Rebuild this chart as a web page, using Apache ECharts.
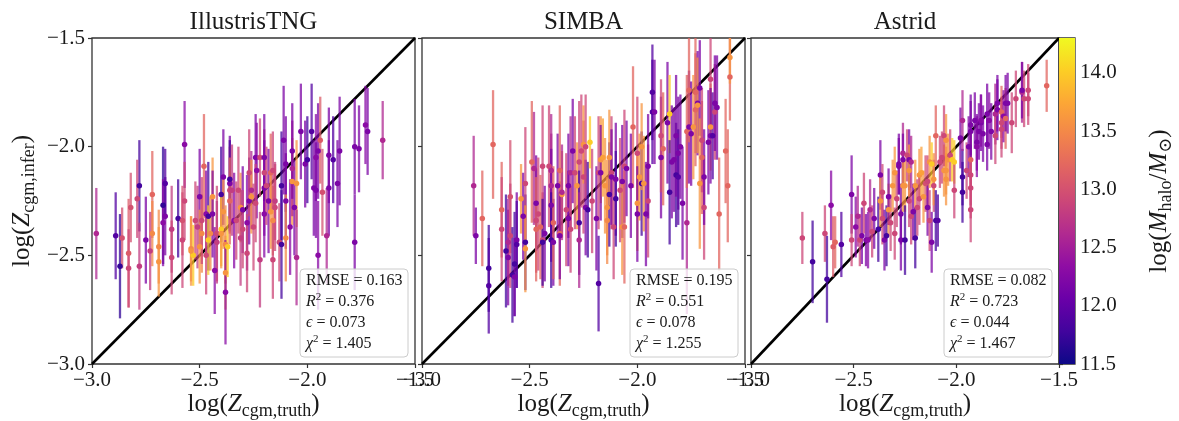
<!DOCTYPE html>
<html>
<head>
<meta charset="utf-8">
<script src="https://cdn.jsdelivr.net/npm/echarts@6/dist/echarts.min.js"></script>
<style>
  html, body { margin: 0; padding: 0; background: #fff; }
  #chart { width: 1179px; height: 421px; }
</style>
</head>
<body>
<div id="chart"></div>
<script>
// ---- data -------------------------------------------------------------
const panelTitles = ['IllustrisTNG', 'SIMBA', 'Astrid'];
const axisRange = [-3.0, -1.5];
const axisStep = 0.5;
const massRange = [11.5, 14.3];
const massTicks = [11.5, 12.0, 12.5, 13.0, 13.5, 14.0];

const rmseValues = ['0.163', '0.195', '0.082'];
const r2Values   = ['0.376', '0.551', '0.723'];
const epsValues  = ['0.073', '0.078', '0.044'];
const chi2Values = ['1.405', '1.255', '1.467'];

// each point: [log Z_truth, log Z_infer, 1-sigma error, log M_halo]
const tngPoints = [
  [-2.98,-2.40,0.21,12.6],[-2.89,-2.41,0.20,11.9],[-2.87,-2.55,0.24,11.7],[-2.86,-2.42,0.14,13.0],
  [-2.83,-2.49,0.25,13.1],[-2.83,-2.56,0.18,12.9],[-2.82,-2.28,0.16,13.0],[-2.78,-2.18,0.21,11.8],
  [-2.78,-2.55,0.20,12.8],[-2.79,-2.24,0.18,12.9],[-2.75,-2.43,0.20,12.2],[-2.72,-2.22,0.20,13.2],
  [-2.72,-2.40,0.15,13.5],[-2.73,-2.48,0.18,12.8],[-2.69,-2.46,0.17,13.5],[-2.69,-2.53,0.16,13.6],
  [-2.67,-2.27,0.27,11.7],[-2.67,-2.35,0.20,12.3],[-2.66,-2.32,0.18,12.2],[-2.66,-2.17,0.16,11.9],
  [-2.63,-2.38,0.20,12.8],[-2.63,-2.51,0.17,12.9],[-2.60,-2.33,0.18,11.8],[-2.58,-2.43,0.22,12.9],
  [-2.57,-1.99,0.20,12.3],[-2.57,-2.25,0.18,12.9],[-2.58,-2.34,0.16,13.0],[-2.54,-2.47,0.15,13.5],
  [-2.53,-2.50,0.14,14.0],[-2.54,-2.48,0.16,13.6],[-2.52,-2.34,0.18,12.9],[-2.51,-2.37,0.19,12.8],
  [-2.50,-2.23,0.22,12.2],[-2.50,-2.46,0.17,13.6],[-2.49,-2.40,0.18,13.5],[-2.49,-2.34,0.20,12.9],
  [-2.48,-2.09,0.24,13.2],[-2.47,-2.31,0.20,12.3],[-2.47,-2.50,0.18,12.9],[-2.46,-2.32,0.25,11.8],
  [-2.46,-2.43,0.16,14.0],[-2.45,-2.40,0.17,13.5],[-2.44,-2.23,0.18,13.6],[-2.44,-2.31,0.20,12.2],
  [-2.43,-2.57,0.20,12.3],[-2.42,-2.40,0.22,12.9],[-2.42,-2.44,0.19,12.8],[-2.40,-2.22,0.22,11.8],
  [-2.40,-2.38,0.17,14.0],[-2.40,-2.40,0.16,13.6],[-2.39,-2.14,0.22,12.2],[-2.39,-2.30,0.17,13.6],
  [-2.38,-2.45,0.18,13.5],[-2.38,-2.58,0.17,13.6],[-2.38,-2.67,0.24,12.3],[-2.37,-2.46,0.14,14.0],
  [-2.36,-2.17,0.22,12.2],[-2.36,-2.20,0.20,12.9],[-2.36,-2.15,0.18,11.8],[-2.36,-2.25,0.20,13.2],
  [-2.35,-2.20,0.21,12.8],[-2.34,-2.34,0.22,12.3],[-2.33,-2.34,0.18,12.9],[-2.32,-2.20,0.20,12.9],
  [-2.31,-2.28,0.16,13.6],[-2.31,-2.42,0.22,12.8],[-2.30,-2.29,0.20,12.2],[-2.30,-2.38,0.18,12.9],
  [-2.28,-2.35,0.22,12.3],[-2.28,-2.49,0.18,12.9],[-2.27,-2.25,0.20,12.2],[-2.27,-2.12,0.20,12.9],
  [-2.26,-2.20,0.18,12.6],[-2.26,-2.23,0.17,13.6],[-2.25,-2.37,0.20,12.9],[-2.24,-2.05,0.20,12.2],
  [-2.235,-2.11,0.22,12.3],[-2.24,-2.26,0.18,12.9],[-2.22,-2.05,0.18,12.9],[-2.22,-2.52,0.22,12.8],
  [-2.20,-2.12,0.20,12.9],[-2.20,-2.19,0.22,12.2],[-2.20,-2.31,0.20,12.3],[-2.20,-2.05,0.20,12.2],
  [-2.19,-2.18,0.18,12.9],[-2.18,-2.25,0.24,12.2],[-2.17,-2.12,0.18,13.2],[-2.17,-2.30,0.17,13.6],
  [-2.16,-2.34,0.16,13.5],[-2.16,-2.11,0.18,12.9],[-2.16,-2.52,0.18,12.9],[-2.15,-2.25,0.18,12.8],
  [-2.15,-2.28,0.20,12.9],[-2.13,-2.44,0.18,12.9],[-2.12,-2.18,0.25,11.8],[-2.12,-2.45,0.25,11.8],
  [-2.11,-1.97,0.25,12.2],[-2.10,-2.08,0.22,12.2],[-2.10,-2.25,0.22,12.2],[-2.10,-2.42,0.20,13.5],
  [-2.08,-2.37,0.22,12.3],[-2.07,-2.16,0.20,13.6],[-2.07,-2.10,0.22,12.6],[-2.07,-2.02,0.22,12.2],
  [-2.06,-2.28,0.22,12.2],[-2.05,-2.17,0.20,13.6],[-2.05,-2.51,0.22,12.6],[-2.03,-1.93,0.22,12.2],
  [-2.01,-2.08,0.20,12.2],[-2.00,-2.06,0.20,11.8],[-1.98,-1.93,0.22,11.9],[-1.97,-2.19,0.22,12.2],
  [-1.96,-2.05,0.20,12.3],[-1.96,-2.20,0.22,12.2],[-1.95,-2.50,0.25,12.3],[-1.95,-2.02,0.22,12.2],
  [-1.94,-1.97,0.20,13.1],[-1.93,-2.21,0.20,13.0],[-1.91,-2.41,0.22,12.6],[-1.90,-2.04,0.22,12.2],
  [-1.90,-2.19,0.22,12.2],[-1.88,-2.06,0.20,11.9],[-1.86,-2.17,0.20,12.2],[-1.85,-2.02,0.25,12.2],
  [-1.78,-2.00,0.22,12.2],[-1.78,-2.44,0.22,12.2],[-1.76,-2.01,0.20,12.2],[-1.73,-1.90,0.18,12.3],
  [-1.72,-1.93,0.20,12.2],[-1.65,-1.97,0.18,12.6]
];

const simbaPoints = [
  [-2.76,-2.18,0.23,12.6],[-2.75,-2.41,0.13,12.2],[-2.72,-2.33,0.22,13.2],[-2.69,-2.56,0.20,11.8],
  [-2.69,-2.64,0.22,11.9],[-2.67,-1.99,0.25,13.2],[-2.63,-2.29,0.22,13.2],[-2.63,-2.38,0.24,12.9],
  [-2.61,-2.48,0.26,11.8],[-2.60,-2.51,0.22,12.2],[-2.60,-2.44,0.20,12.6],[-2.59,-2.23,0.26,13.0],
  [-2.59,-2.41,0.24,12.9],[-2.58,-2.59,0.22,11.8],[-2.57,-2.54,0.24,11.8],[-2.57,-2.60,0.18,12.2],
  [-2.56,-2.43,0.22,12.2],[-2.56,-2.45,0.20,11.9],[-2.54,-2.24,0.16,13.6],[-2.53,-2.32,0.20,12.2],
  [-2.52,-2.44,0.22,11.8],[-2.52,-2.17,0.26,12.9],[-2.52,-2.47,0.20,13.6],[-2.49,-2.07,0.28,13.2],
  [-2.48,-2.10,0.26,12.6],[-2.47,-2.34,0.24,12.9],[-2.47,-2.26,0.22,12.2],[-2.46,-2.31,0.26,12.9],
  [-2.47,-2.38,0.24,13.2],[-2.45,-2.37,0.24,13.2],[-2.44,-2.09,0.28,12.9],[-2.44,-2.43,0.22,12.9],
  [-2.44,-2.44,0.20,11.8],[-2.43,-2.40,0.22,12.2],[-2.41,-2.09,0.28,12.9],[-2.40,-2.11,0.26,12.6],
  [-2.40,-2.18,0.24,12.6],[-2.40,-2.27,0.26,12.2],[-2.40,-2.43,0.22,11.8],[-2.39,-2.44,0.20,12.2],
  [-2.39,-2.35,0.26,13.2],[-2.37,-2.18,0.24,12.2],[-2.36,-2.11,0.30,13.2],[-2.36,-2.40,0.24,13.2],
  [-2.36,-2.41,0.20,12.2],[-2.35,-2.22,0.20,13.6],[-2.35,-2.21,0.22,12.6],[-2.33,-2.29,0.26,12.9],
  [-2.32,-2.18,0.24,12.2],[-2.32,-2.33,0.22,12.2],[-2.31,-2.12,0.26,12.6],[-2.31,-2.38,0.20,12.9],
  [-2.30,-2.02,0.24,12.2],[-2.29,-2.12,0.26,12.9],[-2.28,-2.18,0.20,13.6],[-2.27,-2.07,0.28,12.9],
  [-2.27,-2.35,0.24,11.8],[-2.27,-2.43,0.22,12.6],[-2.26,-2.02,0.26,12.9],[-2.25,-2.14,0.26,12.9],
  [-2.25,-1.99,0.18,13.6],[-2.24,-2.28,0.22,12.2],[-2.24,-2.00,0.24,12.9],[-2.23,-2.29,0.22,11.8],
  [-2.22,-1.98,0.12,14.0],[-2.21,-2.25,0.24,12.9],[-2.19,-2.33,0.24,12.2],[-2.18,-2.12,0.26,12.9],
  [-2.18,-2.63,0.22,11.9],[-2.17,-2.06,0.20,13.6],[-2.17,-2.12,0.22,12.2],[-2.16,-2.05,0.18,13.7],
  [-2.15,-2.18,0.22,13.6],[-2.14,-2.28,0.22,13.6],[-2.14,-2.34,0.20,13.5],[-2.13,-2.22,0.24,11.8],
  [-2.13,-2.05,0.22,13.6],[-2.12,-2.12,0.26,12.9],[-2.12,-2.14,0.22,12.2],[-2.11,-2.37,0.24,12.9],
  [-2.10,-2.15,0.26,12.2],[-2.10,-2.24,0.22,11.8],[-2.08,-2.20,0.24,12.9],[-2.07,-2.16,0.26,12.2],
  [-2.07,-2.37,0.22,13.6],[-2.06,-2.37,0.26,13.2],[-2.06,-2.09,0.26,12.9],[-2.05,-2.10,0.22,12.2],
  [-2.03,-2.18,0.24,12.2],[-2.02,-1.91,0.28,13.2],[-2.00,-2.03,0.26,12.9],[-2.00,-2.26,0.22,13.6],
  [-2.00,-2.31,0.22,12.2],[-1.99,-2.14,0.20,13.6],[-1.98,-2.17,0.24,11.8],[-1.98,-2.00,0.20,13.6],
  [-1.97,-2.17,0.22,13.6],[-1.96,-2.31,0.24,12.2],[-1.95,-2.25,0.26,12.9],[-1.95,-2.09,0.24,12.2],
  [-1.93,-1.75,0.22,11.9],[-1.93,-1.84,0.24,11.9],[-1.92,-1.84,0.24,12.2],[-1.89,-2.05,0.28,12.2],
  [-1.89,-1.95,0.26,12.9],[-1.88,-2.01,0.26,13.2],[-1.86,-1.89,0.28,12.2],[-1.85,-1.85,0.18,14.0],
  [-1.85,-2.21,0.24,11.8],[-1.84,-2.07,0.26,12.2],[-1.83,-2.06,0.24,12.2],[-1.82,-2.13,0.24,11.8],
  [-1.82,-1.95,0.28,12.2],[-1.81,-2.03,0.26,12.2],[-1.81,-2.14,0.22,11.9],[-1.80,-2.00,0.24,12.2],
  [-1.79,-2.26,0.26,12.2],[-1.77,-2.35,0.42,12.6],[-1.77,-1.93,0.26,13.2],[-1.76,-1.91,0.26,12.2],
  [-1.76,-1.74,0.24,13.2],[-1.75,-1.94,0.24,12.2],[-1.74,-1.91,0.24,13.6],[-1.73,-1.75,0.28,13.2],
  [-1.73,-1.83,0.26,13.2],[-1.72,-1.80,0.24,12.2],[-1.72,-1.81,0.22,13.6],[-1.71,-1.73,0.22,12.2],
  [-1.71,-2.17,0.30,13.6],[-1.70,-2.05,0.26,13.2],[-1.70,-1.97,0.24,12.9],[-1.69,-2.28,0.24,12.9],
  [-1.69,-2.14,0.22,12.2],[-1.67,-1.98,0.24,12.2],[-1.66,-1.91,0.20,13.6],[-1.66,-1.69,0.22,12.9],
  [-1.66,-1.95,0.22,12.2],[-1.65,-1.95,0.20,11.9],[-1.64,-1.84,0.22,12.9],[-1.64,-1.80,0.22,12.2],
  [-1.63,-1.82,0.24,12.2],[-1.62,-2.31,0.26,13.2],[-1.59,-2.02,0.24,13.2],[-1.58,-2.18,0.26,13.2],
  [-1.57,-1.68,0.20,13.2],[-1.57,-1.59,0.12,13.6]
];

const astridPoints = [
  [-2.75,-2.42,0.12,12.9],[-2.70,-2.53,0.19,11.8],[-2.64,-2.40,0.13,12.9],[-2.63,-2.61,0.20,11.8],
  [-2.61,-2.27,0.16,12.3],[-2.60,-2.46,0.14,13.1],[-2.59,-2.44,0.12,13.2],[-2.56,-2.45,0.15,11.9],
  [-2.51,-2.22,0.18,12.2],[-2.51,-2.43,0.12,12.9],[-2.49,-2.37,0.14,12.3],[-2.48,-2.32,0.14,12.6],
  [-2.47,-2.43,0.12,12.9],[-2.46,-2.41,0.13,12.2],[-2.45,-2.26,0.14,12.9],[-2.44,-2.43,0.12,12.2],
  [-2.43,-2.43,0.13,12.3],[-2.42,-2.29,0.14,12.6],[-2.41,-2.39,0.12,12.9],[-2.40,-2.33,0.14,12.2],
  [-2.38,-2.38,0.15,11.8],[-2.37,-2.13,0.16,12.2],[-2.37,-2.25,0.12,13.6],[-2.36,-2.21,0.13,12.9],
  [-2.36,-2.33,0.12,12.9],[-2.35,-2.43,0.14,12.2],[-2.34,-2.41,0.14,11.8],[-2.33,-2.29,0.12,13.6],
  [-2.33,-2.23,0.13,12.2],[-2.32,-2.35,0.13,12.9],[-2.31,-2.18,0.12,13.6],[-2.30,-2.40,0.12,12.9],
  [-2.30,-2.12,0.12,13.6],[-2.29,-2.24,0.13,12.9],[-2.28,-2.08,0.14,12.2],[-2.28,-2.09,0.13,12.2],
  [-2.27,-2.31,0.14,12.2],[-2.27,-2.43,0.14,12.2],[-2.26,-2.03,0.14,12.6],[-2.26,-2.06,0.12,12.2],
  [-2.26,-2.18,0.12,13.6],[-2.25,-2.18,0.12,13.6],[-2.25,-2.43,0.16,11.8],[-2.24,-2.04,0.12,12.9],
  [-2.23,-2.25,0.12,12.9],[-2.23,-2.06,0.14,12.2],[-2.23,-2.11,0.12,13.6],[-2.22,-2.32,0.13,12.9],
  [-2.22,-2.07,0.12,12.6],[-2.21,-2.30,0.13,12.2],[-2.20,-2.18,0.12,13.6],[-2.20,-2.42,0.14,11.8],
  [-2.19,-2.28,0.13,12.9],[-2.18,-2.13,0.12,13.6],[-2.18,-2.24,0.12,12.9],[-2.17,-2.12,0.12,13.7],
  [-2.16,-2.23,0.12,13.6],[-2.15,-2.17,0.13,13.0],[-2.14,-2.16,0.12,12.9],[-2.14,-2.28,0.13,12.2],
  [-2.13,-2.34,0.14,12.9],[-2.13,-2.07,0.12,13.6],[-2.12,-2.08,0.10,14.0],[-2.12,-2.44,0.14,12.2],
  [-2.11,-2.18,0.12,12.9],[-2.11,-2.15,0.12,13.6],[-2.10,-1.95,0.14,13.2],[-2.10,-2.34,0.14,11.8],
  [-2.09,-2.34,0.12,11.9],[-2.08,-2.07,0.12,12.9],[-2.07,-2.05,0.12,12.9],[-2.06,-2.11,0.12,13.6],
  [-2.06,-1.95,0.14,12.9],[-2.05,-2.15,0.12,13.6],[-2.05,-1.97,0.12,13.6],[-2.05,-2.11,0.11,13.6],
  [-2.04,-2.06,0.12,13.6],[-2.03,-2.04,0.12,12.9],[-2.02,-2.06,0.10,14.0],[-2.01,-2.07,0.10,14.0],
  [-2.01,-2.20,0.13,12.9],[-1.98,-1.96,0.14,12.2],[-1.97,-2.21,0.14,11.8],[-1.97,-2.14,0.13,11.8],
  [-1.97,-1.88,0.14,12.6],[-1.95,-2.11,0.13,12.9],[-1.94,-2.00,0.14,12.2],[-1.93,-2.06,0.13,13.2],
  [-1.93,-2.13,0.14,12.9],[-1.93,-2.19,0.14,12.9],[-1.93,-2.29,0.15,12.9],[-1.93,-1.93,0.14,12.2],
  [-1.93,-1.90,0.14,12.2],[-1.91,-1.88,0.13,12.2],[-1.90,-1.98,0.13,12.2],[-1.90,-2.00,0.14,12.3],
  [-1.89,-1.93,0.13,12.2],[-1.88,-1.89,0.13,12.2],[-1.88,-1.88,0.12,12.3],[-1.87,-1.94,0.13,12.2],
  [-1.85,-1.85,0.14,12.2],[-1.85,-1.99,0.12,12.2],[-1.84,-1.88,0.13,12.3],[-1.83,-1.93,0.13,12.2],
  [-1.81,-1.85,0.14,12.6],[-1.81,-1.95,0.13,12.9],[-1.80,-1.83,0.14,12.2],[-1.80,-1.80,0.13,12.2],
  [-1.78,-1.92,0.13,12.9],[-1.78,-1.84,0.12,13.2],[-1.78,-1.89,0.12,12.9],[-1.77,-1.86,0.12,12.3],
  [-1.76,-1.87,0.14,13.2],[-1.76,-1.80,0.13,12.2],[-1.75,-1.80,0.14,12.2],[-1.73,-1.89,0.14,12.9],
  [-1.71,-1.78,0.13,12.9],[-1.68,-1.75,0.14,12.6],[-1.68,-1.74,0.13,12.2],[-1.67,-1.78,0.13,12.9],
  [-1.65,-1.74,0.12,12.9],[-1.65,-1.78,0.12,12.9],[-1.56,-1.72,0.12,13.2]
];

// ---- styling ----------------------------------------------------------
const panelPoints = [tngPoints, simbaPoints, astridPoints];
const serif = '"Liberation Serif", "DejaVu Serif", serif';
const ink = '#1a1a1a';
const frameColor = '#333';
const plotTop = 38, plotHeight = 326;
const panelBoxes = [
  { left: 92,  width: 323 },
  { left: 422, width: 323 },
  { left: 751, width: 308 }
];
const cbarBox = { left: 1059, width: 16 };

// matplotlib "plasma"
const plasma = ['#0d0887', '#41049d', '#6a00a8', '#8f0da4', '#b12a90', '#cc4778',
                '#e16462', '#f2844b', '#fca636', '#fcce25', '#f0f921'];

const minus = v => v.toFixed(1).replace('-', '\u2212');

const nameRich = {
  r: { fontFamily: serif, fontSize: 25, lineHeight: 28, color: ink },
  i: { fontFamily: serif, fontSize: 25, lineHeight: 28, fontStyle: 'italic', color: ink },
  s: { fontFamily: serif, fontSize: 18, height: 14, verticalAlign: 'bottom', color: ink }
};

const tickLabel = { fontFamily: serif, fontSize: 21, color: ink };

// fixed plot rectangles: labels and names may sit outside them
const gridFrame = {
  show: true, borderColor: frameColor, borderWidth: 1.3, backgroundColor: 'transparent',
  containLabel: false, outerBoundsMode: 'none'
};
const grids = panelBoxes.map(b => ({
  ...gridFrame, left: b.left, top: plotTop, width: b.width, height: plotHeight
}));
grids.push({ ...gridFrame, left: cbarBox.left, top: plotTop, width: cbarBox.width, height: plotHeight });

const xAxes = panelBoxes.map((b, i) => ({
  type: 'value', gridIndex: i, min: axisRange[0], max: axisRange[1], interval: axisStep,
  axisLine: { show: false, onZero: false },
  axisTick: { show: true, inside: false, length: 4, lineStyle: { color: frameColor, width: 1.2 } },
  splitLine: { show: false },
  axisLabel: { ...tickLabel, margin: 6, formatter: minus, showMinLabel: true, showMaxLabel: true },
  name: '{r|log(}{i|Z}{s|cgm,truth}{r|)}',
  nameLocation: 'middle', nameGap: 26, nameMoveOverlap: false,
  nameTextStyle: { rich: nameRich }
}));
xAxes.push({ type: 'value', gridIndex: 3, min: 0, max: 1, show: false });

const yAxes = panelBoxes.map((b, i) => ({
  type: 'value', gridIndex: i, min: axisRange[0], max: axisRange[1], interval: axisStep,
  axisLine: { show: false, onZero: false },
  axisTick: { show: true, inside: false, length: 4, lineStyle: { color: frameColor, width: 1.2 } },
  splitLine: { show: false },
  axisLabel: { show: i === 0, ...tickLabel, margin: 7, formatter: minus, showMinLabel: true, showMaxLabel: true },
  name: i === 0 ? '{r|log(}{i|Z}{s|cgm,infer}{r|)}' : '',
  nameLocation: 'middle', nameGap: 56, nameRotate: 90, nameMoveOverlap: false,
  nameTextStyle: { rich: nameRich }
}));
yAxes.push({
  type: 'value', gridIndex: 3, position: 'right', min: massRange[0], max: massRange[1],
  axisLine: { show: false },
  axisTick: { show: true, length: 4, customValues: massTicks, lineStyle: { color: frameColor, width: 1.2 } },
  splitLine: { show: false },
  axisLabel: { ...tickLabel, margin: 5, customValues: massTicks, formatter: v => v.toFixed(1) },
  name: '{r|log(}{i|M}{s|halo}{r|/}{i|M}{s|\u2299}{r|)}',
  nameLocation: 'middle', nameGap: 70, nameRotate: 90, nameMoveOverlap: false,
  nameTextStyle: { rich: nameRich }
});

const series = [];
const mappedSeries = [];

panelPoints.forEach((pts, i) => {
  // one-to-one line
  series.push({
    type: 'line', xAxisIndex: i, yAxisIndex: i, silent: true, symbol: 'none', z: 1,
    data: [[axisRange[0], axisRange[0]], [axisRange[1], axisRange[1]]],
    lineStyle: { color: '#000', width: 2.6 }
  });
  // vertical error bars
  mappedSeries.push(series.length);
  series.push({
    type: 'custom', xAxisIndex: i, yAxisIndex: i, silent: true, clip: true, z: 2,
    dimensions: ['truth', 'infer', 'err', 'mass'],
    encode: { x: 0, y: 1 },
    data: pts,
    renderItem: (params, api) => {
      const x = api.value(0), y = api.value(1), e = api.value(2);
      const lo = api.coord([x, y - e]);
      const hi = api.coord([x, y + e]);
      return {
        type: 'line',
        shape: { x1: lo[0], y1: lo[1], x2: hi[0], y2: hi[1] },
        style: { stroke: api.visual('color'), lineWidth: 2.3, opacity: 0.75 }
      };
    }
  });
  // central markers
  mappedSeries.push(series.length);
  series.push({
    type: 'scatter', xAxisIndex: i, yAxisIndex: i, silent: true, z: 3,
    dimensions: ['truth', 'infer', 'err', 'mass'],
    encode: { x: 0, y: 1 },
    data: pts, symbolSize: 5.5,
    itemStyle: { opacity: 1 }
  });
});

// colour bar strip
series.push({
  type: 'custom', xAxisIndex: 3, yAxisIndex: 3, silent: true,
  data: [[0, massRange[0], massRange[1]]],
  renderItem: (params, api) => {
    const p0 = api.coord([0, api.value(1)]);
    const p1 = api.coord([1, api.value(2)]);
    return {
      type: 'rect',
      shape: { x: p0[0], y: p1[1], width: p1[0] - p0[0], height: p0[1] - p1[1] },
      style: {
        fill: new echarts.graphic.LinearGradient(0, 1, 0, 0,
          plasma.map((c, k) => ({ offset: k / (plasma.length - 1), color: c })))
      }
    };
  }
});

// panel titles and statistics boxes
const boxFont = '16px "Liberation Serif", "DejaVu Serif", serif';
const boxItalic = 'italic 16px "Liberation Serif", "DejaVu Serif", serif';
const boxSup = '11px "Liberation Serif", "DejaVu Serif", serif';
const boxRich = {
  r: { font: boxFont, fontSize: 16, fontFamily: serif, lineHeight: 21, fill: ink, color: ink },
  i: { font: boxItalic, fontSize: 16, fontFamily: serif, fontStyle: 'italic', lineHeight: 21, fill: ink, color: ink },
  p: { font: boxSup, fontSize: 11, fontFamily: serif, height: 12, verticalAlign: 'top', fill: ink, color: ink }
};
const graphics = [];
panelBoxes.forEach((b, i) => {
  graphics.push({
    type: 'text', silent: true, x: b.left + b.width / 2, y: 22,
    style: {
      text: panelTitles[i], fontFamily: serif, fontSize: 25, fill: ink,
      align: 'center', verticalAlign: 'middle', textAlign: 'center', textVerticalAlign: 'middle'
    }
  });
  const bx = b.left + b.width - 7 - 108;
  graphics.push({
    type: 'rect', silent: true, x: bx, y: 269, z: 10,
    shape: { x: 0, y: 0, width: 108, height: 88, r: 4 },
    style: { fill: 'rgba(255,255,255,0.8)', stroke: '#cccccc', lineWidth: 1 }
  });
  graphics.push({
    type: 'text', silent: true, x: bx + 6, y: 270, z: 11,
    style: {
      text: '{r|RMSE = ' + rmseValues[i] + '}\n' +
            '{i|R}{p|2}{r| = ' + r2Values[i] + '}\n' +
            '{i|\u03f5}{r| = ' + epsValues[i] + '}\n' +
            '{i|\u03c7}{p|2}{r| = ' + chi2Values[i] + '}',
      rich: boxRich, font: boxFont, fill: ink
    }
  });
});

const chart = echarts.init(document.getElementById('chart'), null, { renderer: 'canvas' });
chart.setOption({
  animation: false,
  backgroundColor: '#fff',
  grid: grids,
  xAxis: xAxes,
  yAxis: yAxes,
  visualMap: {
    type: 'continuous', show: false, dimension: 3,
    min: massRange[0], max: massRange[1],
    seriesIndex: mappedSeries,
    inRange: { color: plasma }
  },
  graphic: graphics,
  series: series
});
</script>
</body>
</html>
